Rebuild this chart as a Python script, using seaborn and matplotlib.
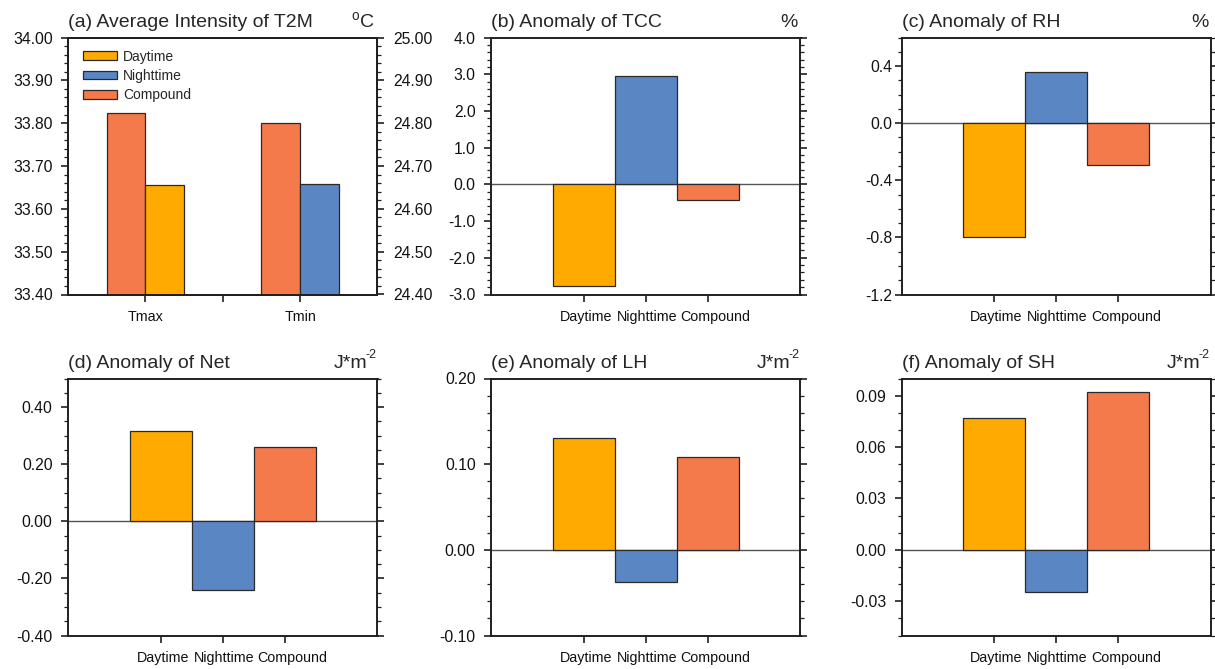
import numpy as np
import pandas as pd
import matplotlib
matplotlib.use("Agg")
import matplotlib.pyplot as plt
import matplotlib.transforms as mtransforms
from matplotlib.ticker import MultipleLocator, FormatStrFormatter
from matplotlib.patches import Patch
import seaborn as sns

# ---------------- data ----------------
categories = ["Daytime", "Nighttime", "Compound"]
t2m_vars = ["Tmax", "Tmin"]
tmax_series = ["Compound", "Daytime"]
tmax_values = [33.823, 33.655]
tmin_series = ["Compound", "Nighttime"]
tmin_values = [24.800, 24.659]
tcc_values = [-2.78, 2.95, -0.42]
rh_values = [-0.80, 0.36, -0.29]
net_values = [0.315, -0.24, 0.26]
lh_values = [0.130, -0.037, 0.108]
sh_values = [0.077, -0.0247, 0.0923]

titles = ["(a) Average Intensity of T2M", "(b) Anomaly of TCC", "(c) Anomaly of RH",
          "(d) Anomaly of Net", "(e) Anomaly of LH", "(f) Anomaly of SH"]
units = [r"$^{\rm o}$C", "%", "%", ("J*m", "-2"), ("J*m", "-2"), ("J*m", "-2")]

colors = {"Daytime": "#FFAA00", "Nighttime": "#5B86C4", "Compound": "#F4794B"}

# ---------------- style ----------------
sns.set_style("ticks")
plt.rcParams["font.family"] = ["Liberation Sans", "DejaVu Sans"]
plt.rcParams["mathtext.fontset"] = "custom"
plt.rcParams["mathtext.rm"] = "Liberation Sans"
plt.rcParams["mathtext.it"] = "Liberation Sans:italic"
plt.rcParams["axes.unicode_minus"] = False

SPINE = "#231f20"
EDGE = "#2a2a2a"

W, H = 1215, 669
fig = plt.figure(figsize=(W / 100, H / 100), dpi=100)

col_left = [68, 491, 901.5]
row_top = [37.5, 378.5]
aw, ah = 309.5, 257


def make_ax(r, c):
    l, t = col_left[c], row_top[r]
    return fig.add_axes([l / W, 1 - (t + ah) / H, aw / W, ah / H])


def style_ax(ax, pad=6):
    for s in ax.spines.values():
        s.set_color(SPINE)
        s.set_linewidth(1.4)
    ax.tick_params(axis="y", which="major", direction="out", length=5, width=1.2,
                   color=SPINE, labelsize=11.3, pad=pad, labelcolor="#111")
    ax.tick_params(axis="y", which="minor", direction="out", length=3, width=0.9,
                   color=SPINE)
    ax.tick_params(axis="x", which="major", direction="out", length=5, width=1.2,
                   color=SPINE, labelsize=10.3, pad=6, labelcolor="#111")
    ax.tick_params(axis="x", which="minor", bottom=False, top=False)
    ax.set_xlabel("")
    ax.set_ylabel("")


def add_titles(ax, title, unit):
    ax.annotate(title, xy=(0, 1), xycoords="axes fraction", xytext=(0, 7.5),
                textcoords="offset points", ha="left", va="baseline", fontsize=14)
    if isinstance(unit, tuple):
        base, sup = unit
        ax.annotate(sup, xy=(1, 1), xycoords="axes fraction", xytext=(-1, 15),
                    textcoords="offset points", ha="right", va="baseline", fontsize=9)
        ax.annotate(base, xy=(1, 1), xycoords="axes fraction", xytext=(-7.5, 7.5),
                    textcoords="offset points", ha="right", va="baseline", fontsize=14)
    else:
        ax.annotate(unit, xy=(1, 1), xycoords="axes fraction", xytext=(-2, 7.5),
                    textcoords="offset points", ha="right", va="baseline", fontsize=14)


def shift_xlabels(ax, shifts_px):
    for lab, dx in zip(ax.get_xticklabels(), shifts_px):
        off = mtransforms.ScaledTranslation(dx / 100, 0, fig.dpi_scale_trans)
        lab.set_transform(lab.get_transform() + off)


# ---------------- panel (a) ----------------
ax = make_ax(0, 0)
df_tmax = pd.DataFrame({"var": ["Tmax"] * 2, "type": tmax_series, "val": tmax_values})
df_tmin = pd.DataFrame({"var": ["Tmin"] * 2, "type": tmin_series, "val": tmin_values})
sns.barplot(data=df_tmax, x="var", y="val", hue="type", order=t2m_vars,
            hue_order=tmax_series, palette=colors, width=0.5, gap=0, saturation=1,
            edgecolor=EDGE, linewidth=0.9, legend=False, ax=ax)
ax2 = ax.twinx()
sns.barplot(data=df_tmin, x="var", y="val", hue="type", order=t2m_vars,
            hue_order=tmin_series, palette=colors, width=0.5, gap=0, saturation=1,
            edgecolor=EDGE, linewidth=0.9, legend=False, ax=ax2)
ax.set_ylim(33.40, 34.00)
ax2.set_ylim(24.40, 25.00)
ax.set_xlim(-0.5, 1.5)
for a in (ax, ax2):
    style_ax(a)
ax.yaxis.set_major_locator(MultipleLocator(0.1))
ax.yaxis.set_minor_locator(MultipleLocator(0.02))
ax.yaxis.set_major_formatter(FormatStrFormatter("%.2f"))
ax2.yaxis.set_major_locator(MultipleLocator(0.1))
ax2.yaxis.set_minor_locator(MultipleLocator(0.02))
ax2.yaxis.set_major_formatter(FormatStrFormatter("%.2f"))
ax.tick_params(axis="y", which="both", right=False, labelright=False)
ax2.tick_params(axis="y", which="both", right=True, labelright=True, left=False, labelleft=False)
ax.set_xticks([0, 0.5, 1])
ax.set_xticklabels([t2m_vars[0], "", t2m_vars[1]])
ax.tick_params(axis="x", top=False)
ax2.tick_params(axis="x", top=False, bottom=False)
handles = [Patch(facecolor=colors[c], edgecolor=EDGE, linewidth=0.9) for c in categories]
ax.legend(handles, categories, loc="upper left", bbox_to_anchor=(0.02, 0.985),
          frameon=False, fontsize=10, handlelength=2.45, handleheight=0.6,
          handletextpad=0.45, labelspacing=0.38, borderaxespad=0.2)
add_titles(ax, titles[0], units[0])

# ---------------- panels (b)-(f) ----------------
panels = [
    (0, 1, tcc_values, (-3.0, 4.0), 1.0, 0.2, "%.1f", 6),
    (0, 2, rh_values, (-1.2, 0.6), 0.4, 0.1, "%.1f", 1.5),
    (1, 0, net_values, (-0.40, 0.50), 0.2, 0.05, "%.2f", 6),
    (1, 1, lh_values, (-0.10, 0.20), 0.1, 0.02, "%.2f", 6),
    (1, 2, sh_values, (-0.05, 0.10), 0.03, 0.01, "%.2f", 6),
]
for i, (r, c, vals, ylim, maj, mnr, fmt, pad) in enumerate(panels, start=1):
    ax = make_ax(r, c)
    df = pd.DataFrame({"type": categories, "val": vals})
    ax.axhline(0, color="#555555", linewidth=1.0, zorder=0.5)
    sns.barplot(data=df, x="type", y="val", hue="type", order=categories,
                hue_order=categories, palette=colors, width=1.0, saturation=1,
                edgecolor=EDGE, linewidth=0.9, legend=False, ax=ax)
    ax.set_xlim(-1.5, 3.5)
    ax.set_ylim(*ylim)
    style_ax(ax, pad=pad)
    ax.yaxis.set_major_locator(MultipleLocator(maj))
    ax.yaxis.set_minor_locator(MultipleLocator(mnr))
    ax.yaxis.set_major_formatter(FormatStrFormatter(fmt))
    ax.tick_params(axis="y", which="both", left=True, right=True, labelright=False)
    ax.tick_params(axis="x", top=False)
    ax.set_xticks([0, 1, 2])
    ax.set_xticklabels(categories)
    shift_xlabels(ax, [2, 1, 8])
    add_titles(ax, titles[i], units[i])

fig.savefig("out.png", dpi=100)
